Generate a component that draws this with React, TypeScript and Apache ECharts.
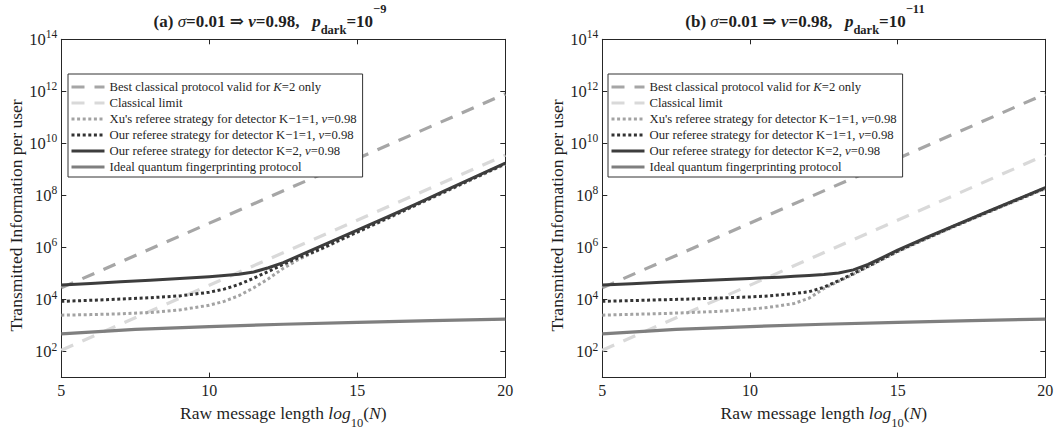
import { useEffect, useRef } from 'react';
import * as echarts from 'echarts';

const SERIF = '"Liberation Serif", "DejaVu Serif", serif';
const INK = '#1f1f1f';

// Raw message length log10(N) sampled for the referee-strategy curves
const xCurve = [5, 6, 7, 8, 9, 10, 10.5, 11, 11.5, 12, 12.5, 13, 13.5, 14, 14.5, 15, 16, 17, 18, 19, 20];

// Straight classical bounds (values are log10 of transmitted information)
const xLine = [5, 20];
const bestClassicalExp = [4.45, 11.9];
const classicalLimitExp = [2.05, 9.55];

// Ideal quantum fingerprinting
const xIdeal = [5, 7.5, 10, 12.5, 15, 17.5, 20];
const idealExp = [2.68, 2.85, 2.96, 3.05, 3.12, 3.19, 3.25];

// Panel (a): p_dark = 1e-9
const xuExpA = [3.40, 3.42, 3.45, 3.50, 3.60, 3.78, 3.93, 4.15, 4.45, 4.80, 5.20, 5.53, 5.80, 6.05, 6.32, 6.58, 7.10, 7.63, 8.15, 8.68, 9.20];
const oursK1ExpA = [3.93, 3.97, 4.02, 4.07, 4.14, 4.28, 4.40, 4.58, 4.82, 5.08, 5.35, 5.60, 5.82, 6.07, 6.34, 6.60, 7.12, 7.65, 8.17, 8.70, 9.22];
const oursK2ExpA = [4.56, 4.62, 4.68, 4.74, 4.81, 4.88, 4.92, 4.97, 5.06, 5.22, 5.42, 5.67, 5.92, 6.17, 6.42, 6.67, 7.17, 7.68, 8.20, 8.72, 9.24];

// Panel (b): p_dark = 1e-11
const xuExpB = [3.40, 3.43, 3.46, 3.50, 3.55, 3.63, 3.68, 3.76, 3.85, 4.05, 4.42, 4.70, 4.97, 5.26, 5.55, 5.84, 6.35, 6.84, 7.32, 7.79, 8.26];
const oursK1ExpB = [3.93, 3.96, 3.99, 4.02, 4.06, 4.10, 4.13, 4.18, 4.23, 4.30, 4.47, 4.72, 5.00, 5.28, 5.57, 5.86, 6.37, 6.86, 7.34, 7.81, 8.28];
const oursK2ExpB = [4.56, 4.61, 4.66, 4.71, 4.76, 4.81, 4.84, 4.86, 4.89, 4.92, 4.96, 5.02, 5.14, 5.35, 5.62, 5.90, 6.40, 6.88, 7.36, 7.83, 8.30];

const yTicks = [1e2, 1e4, 1e6, 1e8, 1e10, 1e12, 1e14];
const xTicks = [5, 10, 15, 20];

const NAMES = [
  'Best classical protocol valid for K=2 only',
  'Classical limit',
  "Xu's referee strategy for detector K−1=1, ν=0.98",
  'Our referee strategy for detector K−1=1, ν=0.98',
  'Our referee strategy for detector K=2, ν=0.98',
  'Ideal quantum fingerprinting protocol',
];

const LEGEND_RICH = [
  '{n|Best classical protocol valid for }{i|K}{n|=2 only}',
  '{n|Classical limit}',
  "{n|Xu's referee strategy for detector K−1=1, }{i|ν}{n|=0.98}",
  '{n|Our referee strategy for detector K−1=1, }{i|ν}{n|=0.98}',
  '{n|Our referee strategy for detector K=2, }{i|ν}{n|=0.98}',
  '{n|Ideal quantum fingerprinting protocol}',
];

const STYLES = [
  { color: '#a6a6a6', width: 3.2, type: [13, 10] },
  { color: '#d9d9d9', width: 3.2, type: [13, 10] },
  { color: '#a3a3a3', width: 3, type: [3, 2.6] },
  { color: '#333333', width: 3, type: [3, 2.6] },
  { color: '#3d3d3d', width: 3, type: 'solid' },
  { color: '#7f7f7f', width: 3.2, type: 'solid' },
];

const PANELS = [
  { tag: 'a', exp: '−9', left: 61.3, width: 444, titleX: 270, legendLeft: 68, xu: xuExpA, k1: oursK1ExpA, k2: oursK2ExpA },
  { tag: 'b', exp: '−11', left: 602.3, width: 443, titleX: 805, legendLeft: 608, xu: xuExpB, k1: oursK1ExpB, k2: oursK2ExpB },
];

const GRID_TOP = 39.3;
const GRID_H = 347.4;

const toPoints = (xs: number[], exps: number[]) => xs.map((x, i) => [x, Math.pow(10, exps[i])]);

const axisLineStyle = { color: '#262626', width: 1 };

function buildOption() {
  const grid: any[] = [];
  const xAxis: any[] = [];
  const yAxis: any[] = [];
  const series: any[] = [];
  const legend: any[] = [];
  const graphic: any[] = [];

  PANELS.forEach((p, gi) => {
    grid.push({ left: p.left, top: GRID_TOP, width: p.width, height: GRID_H, containLabel: false });

    ['bottom', 'top'].forEach((pos) => {
      xAxis.push({
        type: 'value',
        gridIndex: gi,
        position: pos,
        min: 5,
        max: 20,
        interval: 5,
        axisLine: { show: true, onZero: false, lineStyle: axisLineStyle },
        axisTick: { show: true, inside: true, length: 5, lineStyle: axisLineStyle },
        axisLabel: {
          show: pos === 'bottom',
          margin: 5,
          fontFamily: SERIF,
          fontSize: 16,
          color: INK,
          customValues: xTicks,
        },
        splitLine: { show: false },
        name: pos === 'bottom' ? '{n|Raw message length }{i|log}{s|10}{n|(}{i|N}{n|)}' : '',
        nameLocation: 'middle',
        nameGap: 16,
        nameTextStyle: {
          rich: {
            n: { fontFamily: SERIF, fontSize: 17.5, color: INK },
            i: { fontFamily: SERIF, fontSize: 17.5, fontStyle: 'italic', color: INK },
            s: { fontFamily: SERIF, fontSize: 12.5, color: INK, padding: [20, 0, 0, 0] },
          },
        },
      });
    });

    ['left', 'right'].forEach((pos) => {
      yAxis.push({
        type: 'log',
        logBase: 10,
        gridIndex: gi,
        position: pos,
        min: 10,
        max: 1e14,
        axisLine: { show: true, lineStyle: axisLineStyle },
        axisTick: { show: true, inside: true, length: 5, lineStyle: axisLineStyle, customValues: yTicks },
        minorTick: { show: false },
        axisLabel: {
          show: pos === 'left',
          margin: 4,
          customValues: yTicks,
          formatter: (v: number) => `{b|10}{s|${Math.round(Math.log10(v))}}`,
          rich: {
            b: { fontFamily: SERIF, fontSize: 16.5, color: INK },
            s: { fontFamily: SERIF, fontSize: 11.5, color: INK, padding: [0, 0, 10, 0] },
          },
        },
        splitLine: { show: false },
        name: pos === 'left' ? 'Transmitted Information per user' : '',
        nameLocation: 'middle',
        nameGap: 27,
        nameTextStyle: { fontFamily: SERIF, fontSize: 17.5, color: INK, padding: [0, 14, 0, 0] },
      });
    });

    const curves = [
      toPoints(xLine, bestClassicalExp),
      toPoints(xLine, classicalLimitExp),
      toPoints(xCurve, p.xu),
      toPoints(xCurve, p.k1),
      toPoints(xCurve, p.k2),
      toPoints(xIdeal, idealExp),
    ];

    curves.forEach((data, k) => {
      series.push({
        type: 'line',
        name: NAMES[k],
        xAxisIndex: gi * 2,
        yAxisIndex: gi * 2,
        data,
        symbol: 'none',
        showSymbol: false,
        smooth: false,
        silent: true,
        z: 2 + k,
        lineStyle: { color: STYLES[k].color, width: STYLES[k].width, type: STYLES[k].type, cap: 'butt', join: 'round' },
        itemStyle: { color: STYLES[k].color },
        emphasis: { disabled: true },
      });
    });

    legend.push({
      left: p.legendLeft,
      top: 74,
      orient: 'vertical',
      itemWidth: 33,
      itemHeight: 14,
      itemGap: 2,
      padding: [6, 6, 3, 2],
      backgroundColor: '#ffffff',
      borderColor: '#333333',
      borderWidth: 1,
      borderRadius: 0,
      selectedMode: false,
      data: NAMES,
      itemStyle: { opacity: 0 },
      lineStyle: { width: 3 },
      formatter: (n: string) => LEGEND_RICH[NAMES.indexOf(n)],
      textStyle: {
        fontFamily: SERIF,
        fontSize: 12.7,
        color: INK,
        lineHeight: 14,
        rich: {
          n: { fontFamily: SERIF, fontSize: 12.7, color: INK, lineHeight: 14 },
          i: { fontFamily: SERIF, fontSize: 12.7, fontStyle: 'italic', color: INK, lineHeight: 14 },
        },
      },
    });

    graphic.push({
      type: 'text',
      x: p.titleX,
      y: 21,
      silent: true,
      style: {
        text: `{b|(${p.tag}) }{gi|σ}{b|=0.01 ⇒ }{bi|ν}{b|=0.98,   }{bi|p}{sub|dark}{b|=10}{sup|${p.exp}}`,
        align: 'center',
        verticalAlign: 'middle',
        fontFamily: SERIF,
        fontSize: 17,
        fill: INK,
        rich: {
          b: { fontFamily: SERIF, fontSize: 17, fontWeight: 'bold', fill: INK },
          gi: { fontFamily: SERIF, fontSize: 17, fontStyle: 'italic', fill: INK },
          bi: { fontFamily: SERIF, fontSize: 17, fontWeight: 'bold', fontStyle: 'italic', fill: INK },
          sub: { fontFamily: SERIF, fontSize: 12.5, fontWeight: 'bold', fill: INK, padding: [18, 0, 0, 0] },
          sup: { fontFamily: SERIF, fontSize: 12.5, fontWeight: 'bold', fill: INK, padding: [0, 0, 24, 0] },
        },
      },
    });
  });

  return {
    animation: false,
    backgroundColor: '#ffffff',
    grid,
    xAxis,
    yAxis,
    series,
    legend,
    graphic,
  };
}

export default function App() {
  const ref = useRef<HTMLDivElement>(null);

  useEffect(() => {
    if (!ref.current) return;
    const chart = echarts.init(ref.current, undefined, { renderer: 'svg' });
    chart.setOption(buildOption() as any);
    return () => chart.dispose();
  }, []);

  return (
    <div
      ref={ref}
      style={{ position: 'fixed', left: 0, top: 0, width: 1061, height: 434, background: '#fff' }}
    />
  );
}
